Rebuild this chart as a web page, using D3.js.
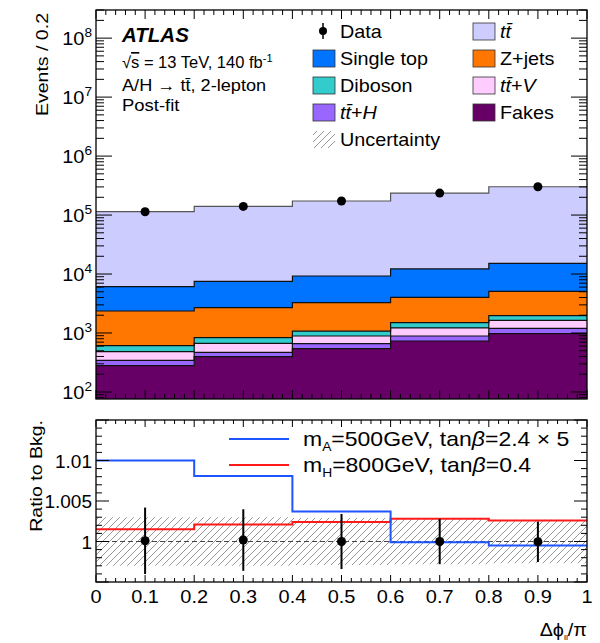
<!DOCTYPE html>
<html>
<head>
<meta charset="utf-8">
<script src="https://cdn.jsdelivr.net/npm/d3@7"></script>
<style>
  body { margin: 0; background: #fff; }
  text { font-family: "Liberation Sans", Arial, sans-serif; fill: #000; }
</style>
</head>
<body>
<svg id="chart" width="600" height="643"></svg>
<script>
// bin edges of delta phi / pi
const binEdges = [0, 0.2, 0.4, 0.6, 0.8, 1.0];
const binCenters = [0.1, 0.3, 0.5, 0.7, 0.9];

// background components (events per bin), bottom of stack first
const fakes   = [279, 397, 542, 731, 975];
const ttH     = [65, 73, 117, 159, 225];
const ttV     = [138, 198, 231, 330, 440];
const diboson = [128, 165, 190, 280, 330];
const zjets   = [1750, 1857, 2190, 2530, 3110];
const singleTop = [3740, 4810, 5980, 8170, 10120];
const ttbar   = [107900, 132500, 163750, 223800, 286800];

// observed data
const dataCounts = [114010, 140025, 173000, 236000, 301990];
const dataRatioErr = [0.0041, 0.0038, 0.0034, 0.0028, 0.0025];

// ratio panel
const bkgUnc = [0.0030, 0.0030, 0.0029, 0.0028, 0.0027];
const sigA500 = [1.0100, 1.0081, 1.0037, 0.9999, 0.9995];
const sigH800 = [1.0015, 1.0021, 1.0024, 1.0028, 1.0026];

const components = [
  {key: "fakes", label: "Fakes", values: fakes, color: "#660066"},
  {key: "ttH", label: "tt+H", values: ttH, color: "#9966ff"},
  {key: "ttV", label: "tt+V", values: ttV, color: "#ffccff"},
  {key: "diboson", label: "Diboson", values: diboson, color: "#33cccc"},
  {key: "zjets", label: "Z+jets", values: zjets, color: "#ff7700"},
  {key: "singletop", label: "Single top", values: singleTop, color: "#0073ff"},
  {key: "ttbar", label: "tt", values: ttbar, color: "#ccccff"}
];

const svg = d3.select("#chart");
const left = 96, right = 587;
const top1 = 10, bot1 = 399;
const top2 = 420, bot2 = 582;

const x = d3.scaleLinear([0, 1], [left, right]);
const y = d3.scaleLog([76, 3e8], [bot1, top1]);
const yr = d3.scaleLinear([0.995, 1.015], [bot2, top2]);

// text helper: the ROOT font is a bit wider than Liberation, so stretch horizontally
function label(px, py, size, sx, opts = {}) {
  const rot = opts.rotate ? ` rotate(${opts.rotate})` : "";
  return svg.append("text")
    .attr("transform", `translate(${px},${py})${rot} scale(${sx},1)`)
    .attr("text-anchor", opts.anchor || "start")
    .attr("font-size", size);
}

const defs = svg.append("defs");
defs.append("clipPath").attr("id", "clipTop")
  .append("rect").attr("x", left).attr("y", top1).attr("width", right - left).attr("height", bot1 - top1);
defs.append("clipPath").attr("id", "clipBot")
  .append("rect").attr("x", left).attr("y", top2).attr("width", right - left).attr("height", bot2 - top2);
const hatch = defs.append("pattern").attr("id", "hatch")
  .attr("patternUnits", "userSpaceOnUse").attr("width", 7).attr("height", 7);
hatch.append("path").attr("d", "M-1,8 L8,-1 M-1,1 L1,-1 M6,8 L8,6")
  .attr("stroke", "#8c8c8c").attr("stroke-width", 0.9);

// stacked rows, one per edge (last bin repeated to close the step)
const rows = binEdges.map((e, i) => {
  const j = Math.min(i, binCenters.length - 1);
  const r = {edge: e};
  components.forEach(c => r[c.key] = c.values[j]);
  return r;
});
const stack = d3.stack().keys(components.map(c => c.key));
const layers = stack(rows);

const area = d3.area()
  .curve(d3.curveStepAfter)
  .x(d => x(d.data.edge))
  .y0(d => y(Math.max(d[0], 1)))
  .y1(d => y(d[1]));
const topLine = d3.line()
  .curve(d3.curveStepAfter)
  .x(d => x(d.data.edge))
  .y(d => y(d[1]));

const gTop = svg.append("g").attr("clip-path", "url(#clipTop)");
gTop.selectAll("path.layer")
  .data(layers)
  .join("path")
  .attr("class", "layer")
  .attr("d", area)
  .attr("fill", (d, i) => components[i].color);
gTop.selectAll("path.outline")
  .data(layers)
  .join("path")
  .attr("class", "outline")
  .attr("d", topLine)
  .attr("fill", "none")
  .attr("stroke", (d, i) => i === layers.length - 1 ? "#555" : "#111")
  .attr("stroke-width", 1.2);

// data points in the main panel
gTop.selectAll("circle.data")
  .data(dataCounts)
  .join("circle")
  .attr("cx", (d, i) => x(binCenters[i]))
  .attr("cy", d => y(d))
  .attr("r", 4.5)
  .attr("fill", "#000");

// ---------- axes / ticks helper ----------
function ticksX(yBase, yTopEdge, majorLen, minorLen) {
  const g = svg.append("g").attr("stroke", "#000").attr("stroke-width", 1);
  d3.range(0, 1.0001, 0.02).forEach((v, k) => {
    const len = k % 5 === 0 ? majorLen : minorLen;
    g.append("line").attr("x1", x(v)).attr("x2", x(v)).attr("y1", yBase).attr("y2", yBase - len);
    g.append("line").attr("x1", x(v)).attr("x2", x(v)).attr("y1", yTopEdge).attr("y2", yTopEdge + len);
  });
}
function frame(y0, y1) {
  svg.append("rect").attr("x", left).attr("y", y0).attr("width", right - left).attr("height", y1 - y0)
    .attr("fill", "none").attr("stroke", "#000").attr("stroke-width", 1.3);
}

// main panel ticks
ticksX(bot1, top1, 9, 5);
const gy = svg.append("g").attr("stroke", "#000").attr("stroke-width", 1);
for (let dec = 1; dec <= 8; dec++) {
  for (let m = 1; m <= 9; m++) {
    const v = m * Math.pow(10, dec);
    if (v < y.domain()[0] || v > y.domain()[1]) continue;
    const len = m === 1 ? 16 : 8;
    gy.append("line").attr("x1", left).attr("x2", left + len).attr("y1", y(v)).attr("y2", y(v));
    gy.append("line").attr("x1", right).attr("x2", right - len).attr("y1", y(v)).attr("y2", y(v));
  }
}
const yLabels = [2, 3, 4, 5, 6, 7, 8];
yLabels.forEach(p => {
  const t = label(92, y(Math.pow(10, p)) + 7, 19, 1.05, {anchor: "end"});
  t.append("tspan").text("10");
  t.append("tspan").attr("font-size", 13).attr("dy", -8).text(p);
});
frame(top1, bot1);

label(48, 13, 17, 1.15, {rotate: -90, anchor: "end"}).text("Events / 0.2");

// ATLAS label
label(122, 42, 20.5, 1.0).attr("font-weight", "bold").attr("font-style", "italic").text("ATLAS");
const t1 = label(122, 68, 16.5, 1.0);
t1.append("tspan").text("\u221A");
t1.append("tspan").attr("text-decoration", "overline").text("s");
t1.append("tspan").text(" = 13 TeV, 140 fb");
t1.append("tspan").attr("font-size", 11).attr("dy", -6).text("-1");
const t2 = label(122, 91, 16.5, 1.1);
t2.append("tspan").text("A/H \u2192 t");
t2.append("tspan").text("t\u0304");
t2.append("tspan").text(", 2-lepton");
label(122, 111, 16.5, 1.12).text("Post-fit");

// legend
const legendLeft = [
  {type: "data", label: "Data"},
  {type: "box", comp: "singletop"},
  {type: "box", comp: "diboson"},
  {type: "box", comp: "ttH"},
  {type: "hatch", label: "Uncertainty"}
];
const legendRight = [
  {type: "box", comp: "ttbar"},
  {type: "box", comp: "zjets"},
  {type: "box", comp: "ttV"},
  {type: "box", comp: "fakes"}
];
function ttLabel(sel, suffix) {
  sel.append("tspan").attr("font-style", "italic").text("t");
  sel.append("tspan").attr("font-style", "italic").text("t\u0304");
  if (suffix) {
    sel.append("tspan").text("+");
    sel.append("tspan").attr("font-style", "italic").text(suffix);
  }
}
function drawLegend(items, bx) {
  items.forEach((it, i) => {
    const cy = 31 + i * 27;
    if (it.type === "data") {
      svg.append("line").attr("x1", bx + 10).attr("x2", bx + 10).attr("y1", cy - 8).attr("y2", cy + 8)
        .attr("stroke", "#000").attr("stroke-width", 1.5);
      svg.append("circle").attr("cx", bx + 10).attr("cy", cy).attr("r", 4).attr("fill", "#000");
    } else if (it.type === "hatch") {
      svg.append("rect").attr("x", bx).attr("y", cy - 8).attr("width", 22).attr("height", 17).attr("fill", "url(#hatch)");
    } else {
      const c = components.find(c => c.key === it.comp);
      svg.append("rect").attr("x", bx).attr("y", cy - 8).attr("width", 22).attr("height", 17)
        .attr("fill", c.color).attr("stroke", "#333").attr("stroke-width", 0.8);
    }
    const t = label(bx + 27, cy + 6.5, 18, 1.1);
    const key = it.comp;
    if (key === "ttbar") ttLabel(t);
    else if (key === "ttH") ttLabel(t, "H");
    else if (key === "ttV") ttLabel(t, "V");
    else t.text(it.label || components.find(c => c.key === key).label);
  });
}
drawLegend(legendLeft, 313);
drawLegend(legendRight, 473);

// ---------- ratio panel ----------
const gBot = svg.append("g").attr("clip-path", "url(#clipBot)");
const bandRows = binEdges.map((e, i) => ({edge: e, u: bkgUnc[Math.min(i, bkgUnc.length - 1)]}));
gBot.append("path")
  .attr("d", d3.area().curve(d3.curveStepAfter)
    .x(d => x(d.edge)).y0(d => yr(1 - d.u)).y1(d => yr(1 + d.u))(bandRows))
  .attr("fill", "url(#hatch)");
gBot.append("line").attr("x1", left).attr("x2", right).attr("y1", yr(1)).attr("y2", yr(1))
  .attr("stroke", "#444").attr("stroke-width", 1).attr("stroke-dasharray", "5,3");

const stepLine = d3.line().curve(d3.curveStepAfter).x(d => x(d.edge)).y(d => yr(d.v));
function stepRows(vals) {
  return binEdges.map((e, i) => ({edge: e, v: vals[Math.min(i, vals.length - 1)]}));
}
gBot.append("path").attr("d", stepLine(stepRows(sigH800)))
  .attr("fill", "none").attr("stroke", "#ff1a1a").attr("stroke-width", 2);
gBot.append("path").attr("d", stepLine(stepRows(sigA500)))
  .attr("fill", "none").attr("stroke", "#1f55ff").attr("stroke-width", 2);

const bkgTotal = binCenters.map((c, i) => d3.sum(components, comp => comp.values[i]));
const dataRatio = dataCounts.map((d, i) => d / bkgTotal[i]);
gBot.selectAll("line.err")
  .data(dataRatio)
  .join("line")
  .attr("class", "err")
  .attr("x1", (d, i) => x(binCenters[i])).attr("x2", (d, i) => x(binCenters[i]))
  .attr("y1", (d, i) => yr(d - dataRatioErr[i])).attr("y2", (d, i) => yr(d + dataRatioErr[i]))
  .attr("stroke", "#000").attr("stroke-width", 2);
gBot.selectAll("circle.data")
  .data(dataRatio)
  .join("circle")
  .attr("cx", (d, i) => x(binCenters[i]))
  .attr("cy", d => yr(d))
  .attr("r", 4.5)
  .attr("fill", "#000");

ticksX(bot2, top2, 7, 4);
const gyr = svg.append("g").attr("stroke", "#000").attr("stroke-width", 1);
d3.range(0, 21).forEach(k => {
  const v = 0.995 + k * 0.001;
  const len = k % 5 === 0 ? 13 : 6;
  gyr.append("line").attr("x1", left).attr("x2", left + len).attr("y1", yr(v)).attr("y2", yr(v));
  gyr.append("line").attr("x1", right).attr("x2", right - len).attr("y1", yr(v)).attr("y2", yr(v));
});
const ratioLabels = [1, 1.005, 1.01];
const ratioText = ["1", "1.005", "1.01"];
ratioLabels.forEach((v, i) => {
  label(92, yr(v) + 7, 19, 1.0, {anchor: "end"}).text(ratioText[i]);
});
frame(top2, bot2);

label(42, 420, 17, 1.15, {rotate: -90, anchor: "end"}).text("Ratio to Bkg.");

// x tick labels
const xTicks = [0, 0.1, 0.2, 0.3, 0.4, 0.5, 0.6, 0.7, 0.8, 0.9, 1];
xTicks.forEach(v => {
  label(x(v), 603, 19, 1.05, {anchor: "middle"})
    .text(v === 0 || v === 1 ? String(v) : v.toFixed(1));
});
const xt = label(587, 636, 18, 1.1, {anchor: "end"});
xt.append("tspan").text("\u0394\u03D5");
xt.append("tspan").attr("font-size", 8).attr("dy", 4).text("ll");
xt.append("tspan").attr("dy", -4).text("/\u03C0");

// ratio legend
const sigLegend = [
  {color: "#1f55ff", sub: "A", rest: "=500GeV, tan", val: "=2.4 \u00D7 5"},
  {color: "#ff1a1a", sub: "H", rest: "=800GeV, tan", val: "=0.4"}
];
sigLegend.forEach((s, i) => {
  const cy = 439 + i * 26;
  svg.append("line").attr("x1", 229).attr("x2", 289).attr("y1", cy).attr("y2", cy)
    .attr("stroke", s.color).attr("stroke-width", 2);
  const t = label(303, cy + 7, 20, 1.15);
  t.append("tspan").text("m");
  t.append("tspan").attr("font-size", 12).attr("dy", 5).text(s.sub);
  t.append("tspan").attr("dy", -5).text(s.rest);
  t.append("tspan").attr("font-style", "italic").text("\u03B2");
  t.append("tspan").text(s.val);
});
</script>
</body>
</html>
